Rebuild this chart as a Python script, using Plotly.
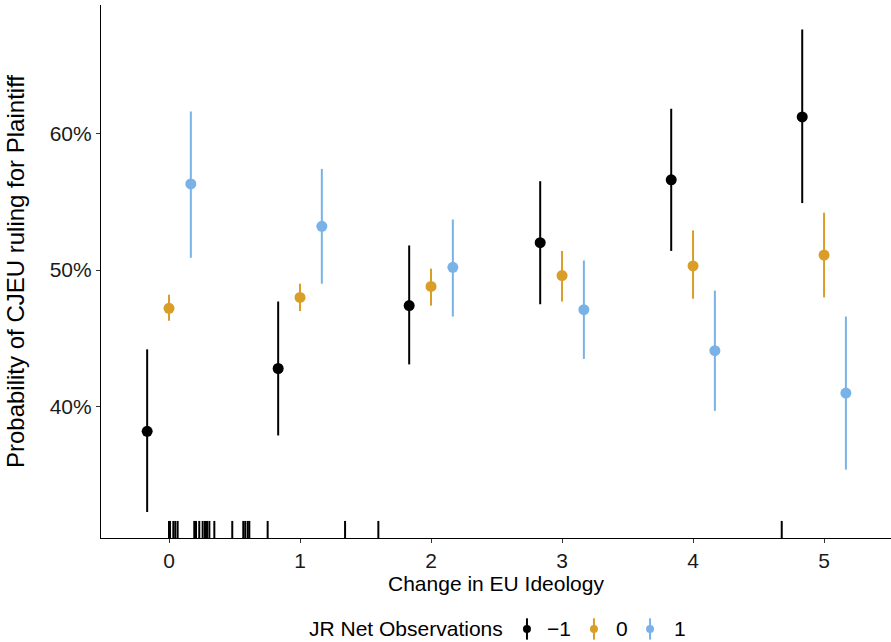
import plotly.graph_objects as go

# ---- data ----
ideology = [0, 1, 2, 3, 4, 5]
groups = ["\u22121", "0", "1"]
group_offsets = [-1/6, 0, 1/6]
colors = ["#000000", "#D89E28", "#79B2E6"]

est_m1 = [38.2, 42.8, 47.4, 52.0, 56.6, 61.2]
lo_m1 = [32.3, 37.9, 43.1, 47.5, 51.4, 54.9]
hi_m1 = [44.2, 47.7, 51.8, 56.5, 61.8, 67.6]

est_0 = [47.2, 48.0, 48.8, 49.6, 50.3, 51.1]
lo_0 = [46.3, 47.0, 47.4, 47.7, 47.9, 48.0]
hi_0 = [48.2, 49.0, 50.1, 51.4, 52.9, 54.2]

est_p1 = [56.3, 53.2, 50.2, 47.1, 44.1, 41.0]
lo_p1 = [50.9, 49.0, 46.6, 43.5, 39.7, 35.4]
hi_p1 = [61.6, 57.4, 53.7, 50.7, 48.5, 46.6]

rug_values = [0.0, 0.008, 0.033, 0.048, 0.066, 0.193, 0.206, 0.231, 0.257,
              0.275, 0.29, 0.308, 0.346, 0.483, 0.567, 0.582, 0.601, 0.613,
              0.753, 1.344, 1.598, 4.677]

y_ticks = [40, 50, 60]
y_ticklabels = ["40%", "50%", "60%"]
x_ticks = [0, 1, 2, 3, 4, 5]

x_title = "Change in EU Ideology"
y_title = "Probability of CJEU ruling for Plaintiff"
legend_title = "JR Net Observations"

FONT = "Liberation Sans, Arial, Helvetica, sans-serif"
TXT = 21

series = [(est_m1, lo_m1, hi_m1), (est_0, lo_0, hi_0), (est_p1, lo_p1, hi_p1)]

fig = go.Figure()
for name, off, col, (est, lo, hi) in zip(groups, group_offsets, colors, series):
    fig.add_trace(go.Scatter(
        x=[v + off for v in ideology], y=est, mode="markers", name=name,
        marker=dict(color=col, size=11),
        error_y=dict(type="data", symmetric=False,
                     array=[h - e for h, e in zip(hi, est)],
                     arrayminus=[e - l for e, l in zip(est, lo)],
                     color=col, thickness=2, width=0),
        showlegend=False,
    ))

# rug
for v in rug_values:
    fig.add_shape(type="line", xref="x", yref="y domain", x0=v, x1=v, y0=0, y1=0.032,
                  line=dict(color="black", width=2))

# manual legend (ggplot-style pointrange keys)
leg_y = -0.1707
annotations = [dict(text=legend_title, xref="paper", yref="paper", x=0.5114, y=leg_y,
                    xanchor="right", yanchor="middle", showarrow=False,
                    font=dict(size=TXT, color="black", family=FONT))]
key_x = [0.5392, 0.624, 0.695]
lab_x = [0.562, 0.649, 0.7228]
for kx, lx, col, name in zip(key_x, lab_x, colors, groups):
    fig.add_shape(type="line", xref="paper", yref="paper", x0=kx, x1=kx,
                  y0=leg_y + 0.02, y1=leg_y - 0.02, line=dict(color=col, width=2))
    fig.add_shape(type="circle", xref="paper", yref="paper", xsizemode="pixel",
                  ysizemode="pixel", xanchor=kx, yanchor=leg_y,
                  x0=-4, x1=4, y0=-4, y1=4, fillcolor=col, line=dict(color=col, width=0))
    annotations.append(dict(text=name, xref="paper", yref="paper", x=lx, y=leg_y,
                            xanchor="left", yanchor="middle", showarrow=False,
                            font=dict(size=TXT, color="black", family=FONT)))

fig.update_layout(
    width=891, height=642,
    margin=dict(l=101, r=0, t=5, b=104, autoexpand=False),
    paper_bgcolor="white", plot_bgcolor="white",
    font=dict(family=FONT, color="black", size=TXT),
    annotations=annotations,
    showlegend=False,
)
fig.update_xaxes(
    range=[-0.519, 5.511], tickvals=x_ticks, showgrid=False, zeroline=False,
    showline=True, linecolor="black", linewidth=1.2, automargin=False,
    ticks="outside", ticklen=4, tickcolor="#333333", tickwidth=1.2,
    tickfont=dict(size=TXT, color="#1a1a1a"),
    title=dict(text=x_title, font=dict(size=TXT, color="black"), standoff=4),
)
fig.update_yaxes(
    range=[30.40, 69.39], tickvals=y_ticks, ticktext=y_ticklabels,
    showgrid=False, zeroline=False, automargin=False,
    showline=True, linecolor="black", linewidth=1.2,
    ticks="outside", ticklen=4, tickcolor="#333333", tickwidth=1.2,
    tickfont=dict(size=TXT, color="#1a1a1a"),
    title=dict(text=y_title, font=dict(size=24, color="black"), standoff=18),
)

post = ("document.body.style.margin='0';document.body.style.padding='0';"
        "document.body.style.overflow='hidden';"
        "var gd=document.getElementById('{plot_id}');"
        "Plotly.relayout(gd,{width:891,height:642});")

fig.write_html("out.html", config={"responsive": False, "displayModeBar": False},
               post_script=post)
